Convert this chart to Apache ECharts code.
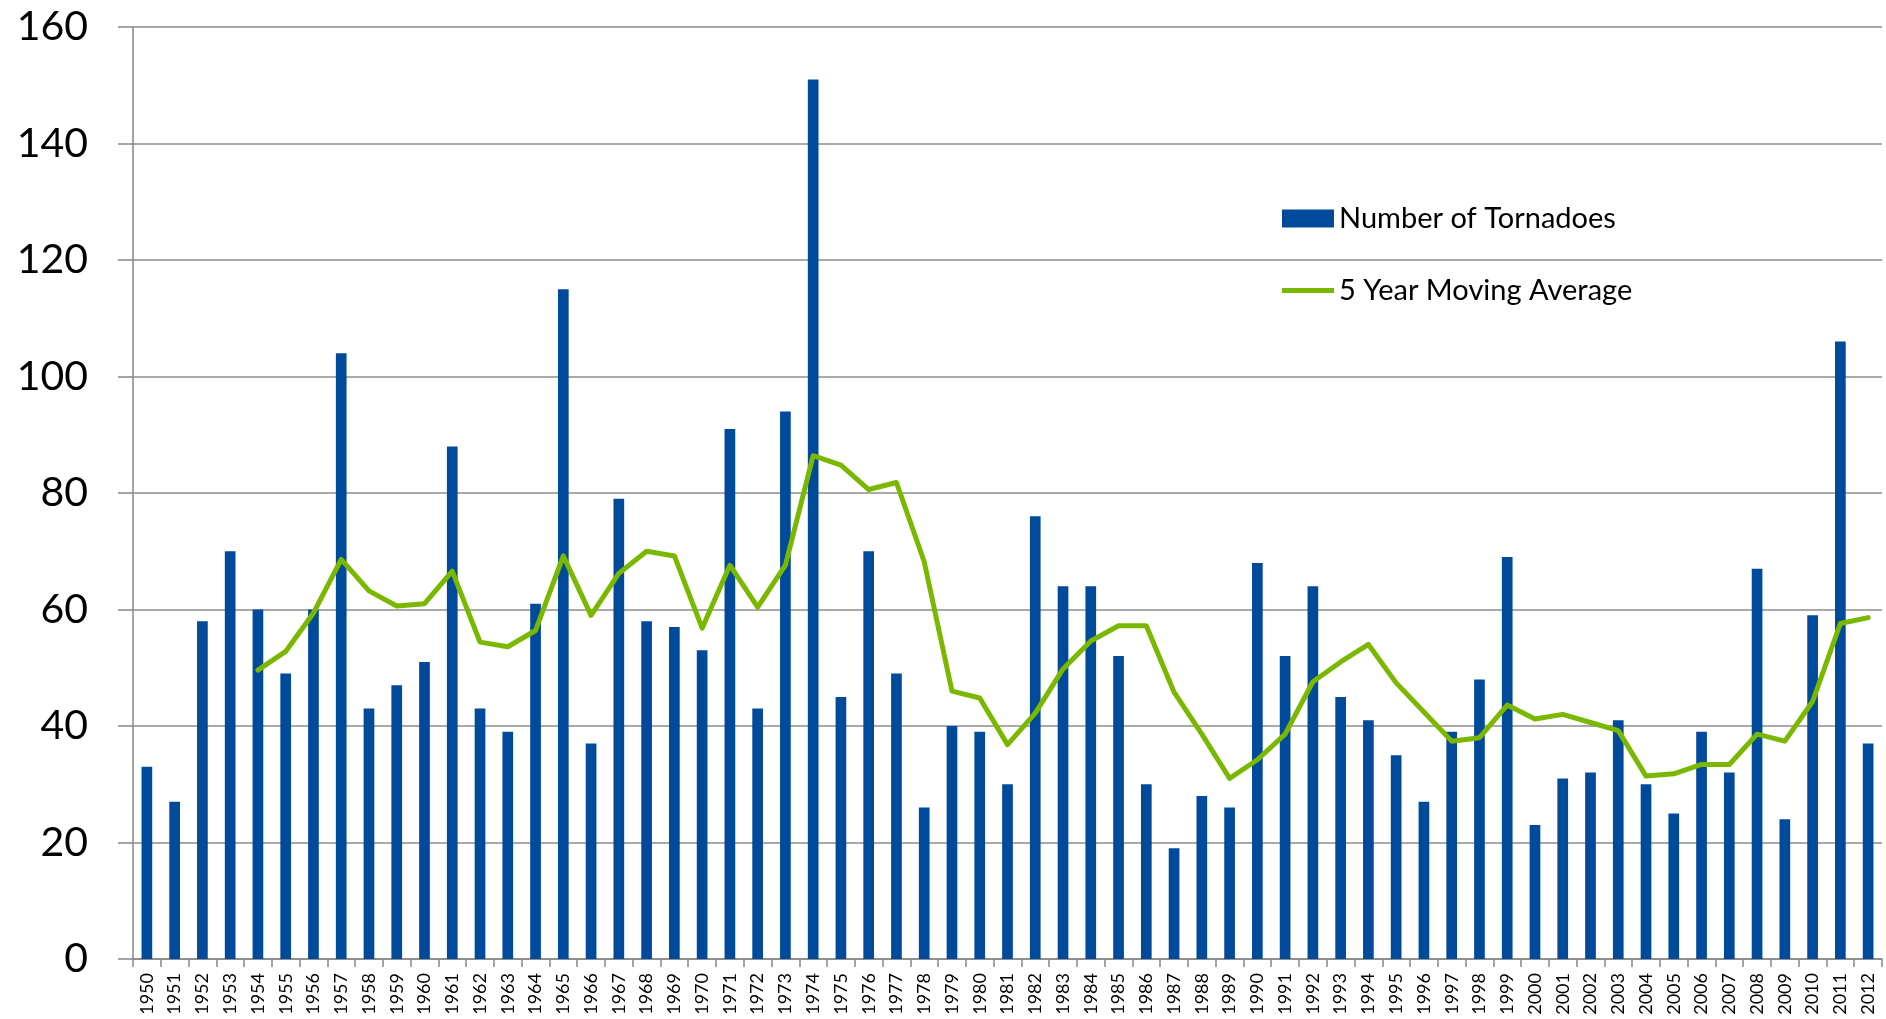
<!DOCTYPE html>
<html>
<head>
<meta charset="utf-8">
<style>
  html, body { margin: 0; padding: 0; background: #fff; }
  #chart { width: 1886px; height: 1019px; }
</style>
<script src="https://cdn.jsdelivr.net/npm/echarts@6/dist/echarts.min.js"></script>
</head>
<body>
<div id="chart"></div>
<script>
const years = [
  '1950', '1951', '1952', '1953', '1954', '1955', '1956', '1957', '1958', '1959',
  '1960', '1961', '1962', '1963', '1964', '1965', '1966', '1967', '1968', '1969',
  '1970', '1971', '1972', '1973', '1974', '1975', '1976', '1977', '1978', '1979',
  '1980', '1981', '1982', '1983', '1984', '1985', '1986', '1987', '1988', '1989',
  '1990', '1991', '1992', '1993', '1994', '1995', '1996', '1997', '1998', '1999',
  '2000', '2001', '2002', '2003', '2004', '2005', '2006', '2007', '2008', '2009',
  '2010', '2011', '2012',
]

const tornadoes = [
  33, 27, 58, 70, 60, 49, 60, 104, 43, 47,
  51, 88, 43, 39, 61, 115, 37, 79, 58, 57,
  53, 91, 43, 94, 151, 45, 70, 49, 26, 40,
  39, 30, 76, 64, 64, 52, 30, 19, 28, 26,
  68, 52, 64, 45, 41, 35, 27, 39, 48, 69,
  23, 31, 32, 41, 30, 25, 39, 32, 67, 24,
  59, 106, 37,
]

const movingAverage = [
  null, null, null, null, 49.6, 52.8, 59.4, 68.6, 63.2, 60.6,
  61.0, 66.6, 54.4, 53.6, 56.4, 69.2, 59.0, 66.2, 70.0, 69.2,
  56.8, 67.6, 60.4, 67.6, 86.4, 84.8, 80.6, 81.8, 68.2, 46.0,
  44.8, 36.8, 42.2, 49.8, 54.6, 57.2, 57.2, 45.8, 38.6, 31.0,
  34.2, 38.6, 47.6, 51.0, 54.0, 47.4, 42.4, 37.4, 38.0, 43.6,
  41.2, 42.0, 40.6, 39.2, 31.4, 31.8, 33.4, 33.4, 38.6, 37.4,
  44.2, 57.6, 58.6,
]

const yTicks = { min: 0, max: 160, interval: 20 }

const chart = echarts.init(document.getElementById('chart'))
chart.setOption({
  animation: false,
  textStyle: { fontFamily: 'Lato, "Open Sans", sans-serif' },
  grid: { left: 133, right: 4, top: 27, bottom: 60 },
  legend: {
    orient: 'vertical',
    left: 1277,
    top: 199,
    itemWidth: 52,
    itemHeight: 18,
    itemGap: 43,
    textStyle: { color: '#000', fontSize: 29 },
    data: [
      { name: 'Number of Tornadoes', icon: 'rect' },
      { name: '5 Year Moving Average', icon: 'path://M0,0 L52,0 L52,5 L0,5 Z' },
    ],
  },
  xAxis: {
    type: 'category',
    data: years,
    boundaryGap: true,
    axisLine: { lineStyle: { color: '#868686', width: 1.5 } },
    axisTick: { show: true, length: 8, lineStyle: { color: '#868686', width: 1.5 } },
    axisLabel: {
      interval: 0,
      rotate: 90,
      color: '#000',
      fontSize: 18,
      margin: 14,
    },
  },
  yAxis: {
    type: 'value',
    min: yTicks.min,
    max: yTicks.max,
    interval: yTicks.interval,
    axisLine: { show: true, lineStyle: { color: '#868686', width: 1.5 } },
    axisTick: { show: true, length: 15, lineStyle: { color: '#868686', width: 1.5 } },
    axisLabel: { color: '#000', fontSize: 41, margin: 45 },
    splitLine: { lineStyle: { color: '#8c8c8c', width: 1.5 } },
  },
  series: [
    {
      name: 'Number of Tornadoes',
      type: 'bar',
      barWidth: '38.5%',
      itemStyle: { color: '#004A9C' },
      data: tornadoes,
    },
    {
      name: '5 Year Moving Average',
      type: 'line',
      symbol: 'none',
      connectNulls: false,
      lineStyle: { color: '#7AB800', width: 5, cap: 'round', join: 'round' },
      itemStyle: { color: '#7AB800' },
      data: movingAverage,
    },
  ],
})
</script>
</body>
</html>
